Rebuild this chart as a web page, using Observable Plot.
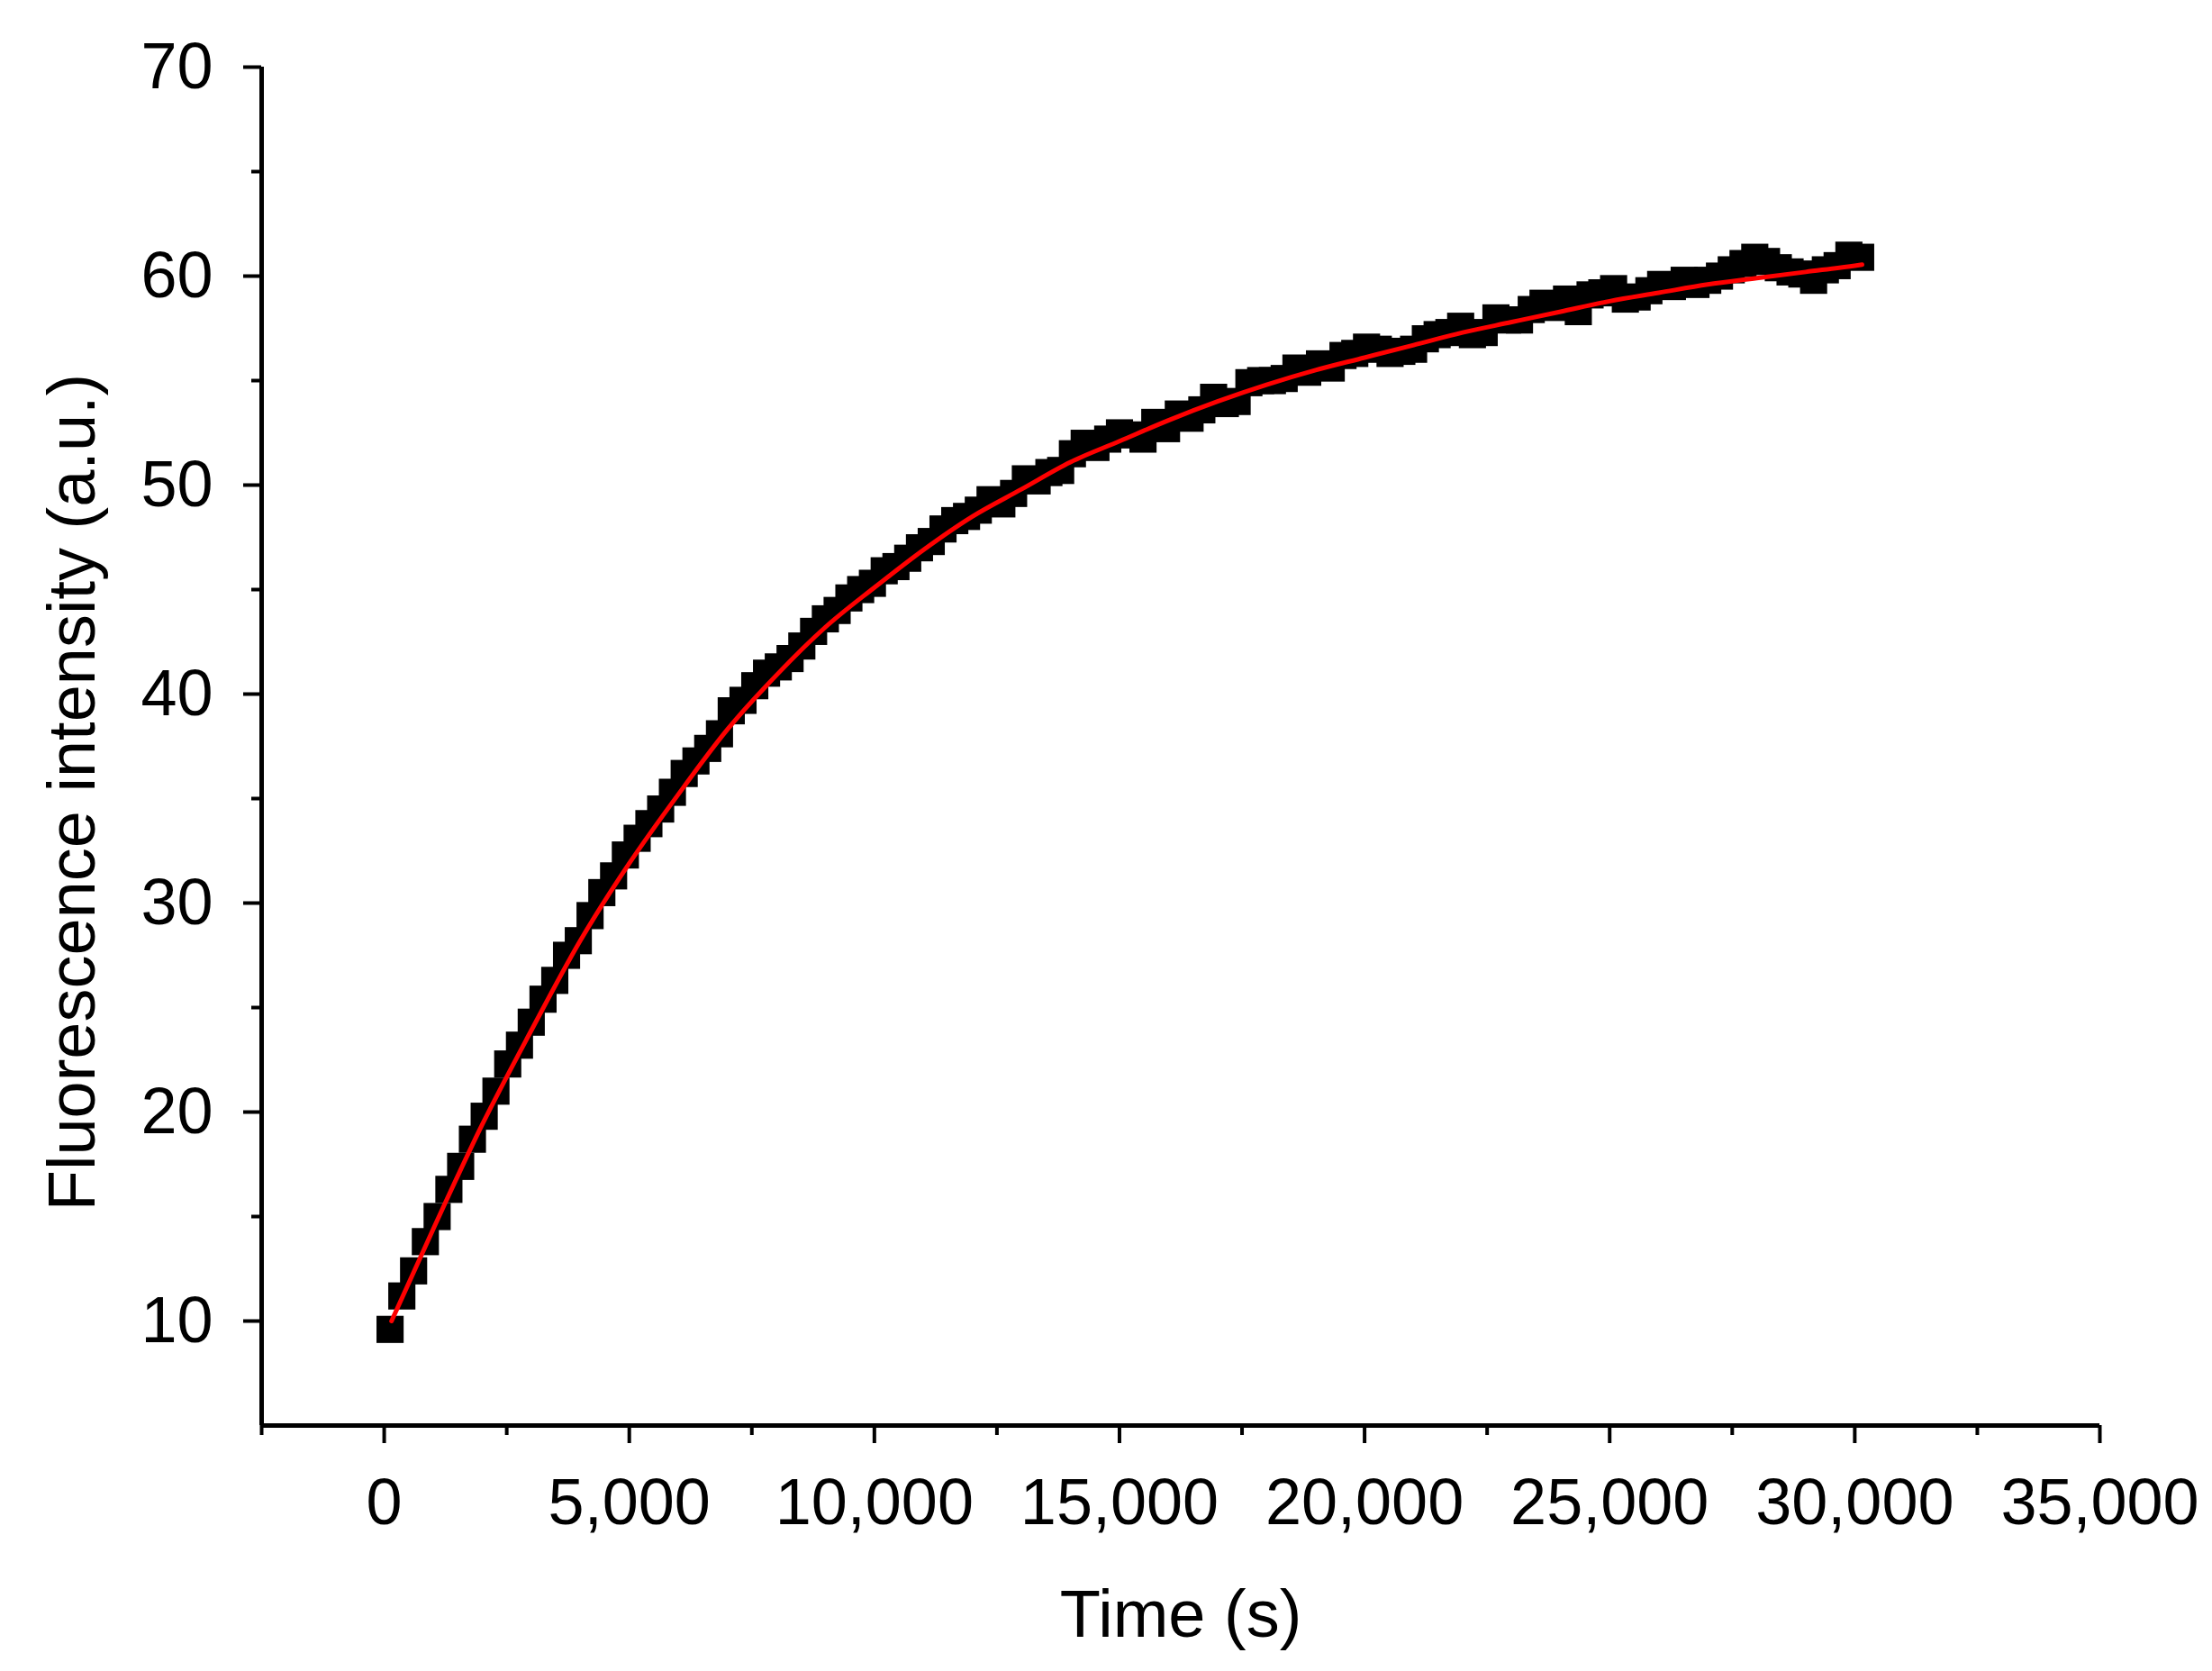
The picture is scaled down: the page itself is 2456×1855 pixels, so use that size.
<!DOCTYPE html>
<html>
<head>
<meta charset="utf-8">
<script src="https://cdn.jsdelivr.net/npm/d3@7"></script>
<script src="https://cdn.jsdelivr.net/npm/@observablehq/plot@0.6"></script>
<style>
  html, body { margin: 0; padding: 0; background: #ffffff; }
  #chart svg { display: block; }
</style>
</head>
<body>
<div id="chart"></div>
<script>
// Measured time points (s)
const times = [
  120, 360, 600, 840, 1080, 1320, 1560, 1800, 2040, 2280,
  2520, 2760, 3000, 3240, 3480, 3720, 3960, 4200, 4440, 4680,
  4920, 5160, 5400, 5640, 5880, 6120, 6360, 6600, 6840, 7080,
  7320, 7560, 7800, 8040, 8280, 8520, 8760, 9000, 9240, 9480,
  9720, 9960, 10200, 10440, 10680, 10920, 11160, 11400, 11640, 11880,
  12120, 12360, 12600, 12840, 13080, 13320, 13560, 13800, 14040, 14280,
  14520, 14760, 15000, 15240, 15480, 15720, 15960, 16200, 16440, 16680,
  16920, 17160, 17400, 17640, 17880, 18120, 18360, 18600, 18840, 19080,
  19320, 19560, 19800, 20040, 20280, 20520, 20760, 21000, 21240, 21480,
  21720, 21960, 22200, 22440, 22680, 22920, 23160, 23400, 23640, 23880,
  24120, 24360, 24600, 24840, 25080, 25320, 25560, 25800, 26040, 26280,
  26520, 26760, 27000, 27240, 27480, 27720, 27960, 28200, 28440, 28680,
  28920, 29160, 29400, 29640, 29880, 30120
];
// Measured fluorescence intensity (a.u.)
const intensity = [
  9.6, 11.2, 12.4, 13.8, 15.0, 16.3, 17.4, 18.7, 19.8, 21.0,
  22.3, 23.2, 24.3, 25.4, 26.3, 27.5, 28.2, 29.4, 30.5, 31.3,
  32.3, 33.1, 33.8, 34.5, 35.3, 36.2, 36.8, 37.4, 38.1, 39.2,
  39.7, 40.4, 41.0, 41.3, 41.7, 42.3, 43.0, 43.6, 44.0, 44.6,
  45.0, 45.3, 45.9, 46.1, 46.5, 47.0, 47.3, 47.9, 48.3, 48.5,
  48.8, 49.3, 49.1, 49.6, 50.3, 50.2, 50.6, 50.7, 51.5, 52.0,
  51.8, 52.2, 52.5, 52.4, 52.2, 53.0, 52.7, 53.4, 53.2, 53.6,
  54.2, 53.9, 54.0, 54.9, 55.0, 55.0, 55.1, 55.6, 55.4, 55.8,
  55.6, 56.2, 56.3, 56.6, 56.5, 56.3, 56.4, 56.5, 57.0, 57.2,
  57.3, 57.6, 57.2, 57.3, 58.0, 57.9, 57.9, 58.4, 58.7, 58.5,
  58.9, 58.3, 59.1, 59.2, 59.4, 58.9, 59.0, 59.3, 59.6, 59.5,
  59.8, 59.6, 59.8, 60.0, 60.3, 60.6, 60.9, 60.7, 60.4, 60.2,
  60.1, 59.8, 60.3, 60.5, 61.0, 60.9
];
// Fitted curve (red)
const fitTimes = [150, 1000, 2000, 3000, 4000, 5000, 6000, 7000, 8000, 9000,
  10000, 11000, 12000, 13000, 14000, 15000, 16000, 17000, 18000, 19000,
  20000, 21000, 22000, 23000, 24000, 25000, 26000, 27000, 28000, 29000, 30000, 30150];
const fitValues = [10.0, 14.4, 19.4, 23.9, 28.2, 31.9, 35.2, 38.3, 40.9, 43.2,
  45.1, 46.9, 48.5, 49.8, 51.1, 52.1, 53.1, 54.0, 54.8, 55.5,
  56.1, 56.7, 57.3, 57.8, 58.3, 58.8, 59.2, 59.6, 59.9, 60.2, 60.5, 60.55];

const xMajor = [0, 5000, 10000, 15000, 20000, 25000, 30000, 35000];
const xMinor = [-2500, 2500, 7500, 12500, 17500, 22500, 27500, 32500];
const yMajor = [10, 20, 30, 40, 50, 60, 70];
const yMinor = [15, 25, 35, 45, 55, 65];

const xTitle = "Time (s)";
const yTitle = "Fluorescence intensity (a.u.)";

const points = times.map((t, i) => ({t, v: intensity[i]}));
const fit = fitTimes.map((t, i) => ({t, v: fitValues[i]}));

const fmt = d3.format(",");

const chart = Plot.plot({
  width: 2456,
  height: 1855,
  marginLeft: 290,
  marginRight: 125,
  marginTop: 74,
  marginBottom: 273,
  style: {
    fontFamily: "'Liberation Sans', Arial, sans-serif",
    fontSize: "72px",
    background: "#ffffff",
    color: "#000000"
  },
  x: {domain: [-2500, 35000]},
  y: {domain: [5, 70]},
  marks: [
    Plot.dot(points, {x: "t", y: "v", symbol: "square", r: 17, fill: "#000000", stroke: "none"}),
    Plot.line(fit, {x: "t", y: "v", stroke: "#ff0000", strokeWidth: 5, curve: "monotone-x"}),
    Plot.ruleX([-2500], {y1: 5, y2: 70, strokeWidth: 5, stroke: "#000"}),
    Plot.ruleY([5], {x1: -2500, x2: 35000, strokeWidth: 5, stroke: "#000"}),
    Plot.axisX({ticks: xMajor, tickSize: 20, tickPadding: 38, tickFormat: fmt, strokeWidth: 4, label: null, fontSize: 72}),
    Plot.axisX({ticks: xMinor, tickSize: 11, tickFormat: () => "", strokeWidth: 4, label: null}),
    Plot.axisY({ticks: yMajor, tickSize: 20, tickPadding: 34, strokeWidth: 4, label: null, fontSize: 72}),
    Plot.axisY({ticks: yMinor, tickSize: 11, tickFormat: () => "", strokeWidth: 4, label: null}),
    Plot.text([xTitle], {frameAnchor: "bottom", text: d => d, dy: 211, fontSize: 74, lineAnchor: "middle"}),
    Plot.text([yTitle], {frameAnchor: "left", text: d => d, dx: -209, dy: 51, rotate: -90, fontSize: 74, textAnchor: "middle", lineAnchor: "middle"})
  ]
});
document.getElementById("chart").appendChild(chart);
</script>
</body>
</html>
